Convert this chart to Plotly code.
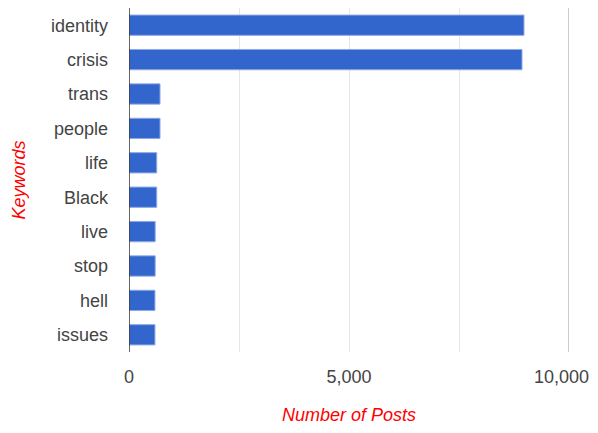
import plotly.graph_objects as go

keywords = ["identity", "crisis", "trans", "people", "life", "Black", "live", "stop", "hell", "issues"]
posts = [8977, 8932, 705, 705, 630, 630, 595, 595, 590, 590]
x_ticks = [0, 5000, 10000]
x_tick_labels = ["0", "5,000", "10,000\u00a0\u00a0\u00a0"]

fig = go.Figure(go.Bar(
    y=keywords, x=posts, orientation="h",
    marker=dict(color="#3366cc", line=dict(color="#8fa9e6", width=1)),
))

fig.update_layout(
    width=582, height=417,
    margin=dict(l=121, r=21, t=0, b=73, autoexpand=False),
    paper_bgcolor="white", plot_bgcolor="white",
    font=dict(family="Arial, Liberation Sans", size=18, color="#444444"),
    bargap=0.41,
    showlegend=False,
    xaxis=dict(
        range=[0, 10000], tickvals=x_ticks, ticktext=x_tick_labels,
        showgrid=True, gridcolor="#e6e6e6", gridwidth=1,
        zeroline=False, showline=False, automargin=True,
        ticklabelstandoff=12, ticklabeloverflow="allow",
        title=dict(text="<i>Number of Posts</i>", font=dict(color="#ff0000", size=18), standoff=31),
        minor=dict(tickvals=[2500, 7500], showgrid=True, gridcolor="#e6e6e6"),
    ),
    yaxis=dict(
        autorange="reversed", showgrid=False, zeroline=False,
        showline=False, automargin=True, ticklabelstandoff=20,
        title=dict(text="<i>Keywords</i>", font=dict(color="#ff0000", size=18), standoff=20),
    ),
    shapes=[
        dict(type="line", xref="x", yref="paper", x0=10000, x1=10000, y0=0, y1=1,
             line=dict(color="#cccccc", width=2)),
        dict(type="line", xref="x", yref="paper", x0=0, x1=0, y0=0, y1=1,
             line=dict(color="#333333", width=1.5)),
    ],
)

fig.write_html("out.html")
